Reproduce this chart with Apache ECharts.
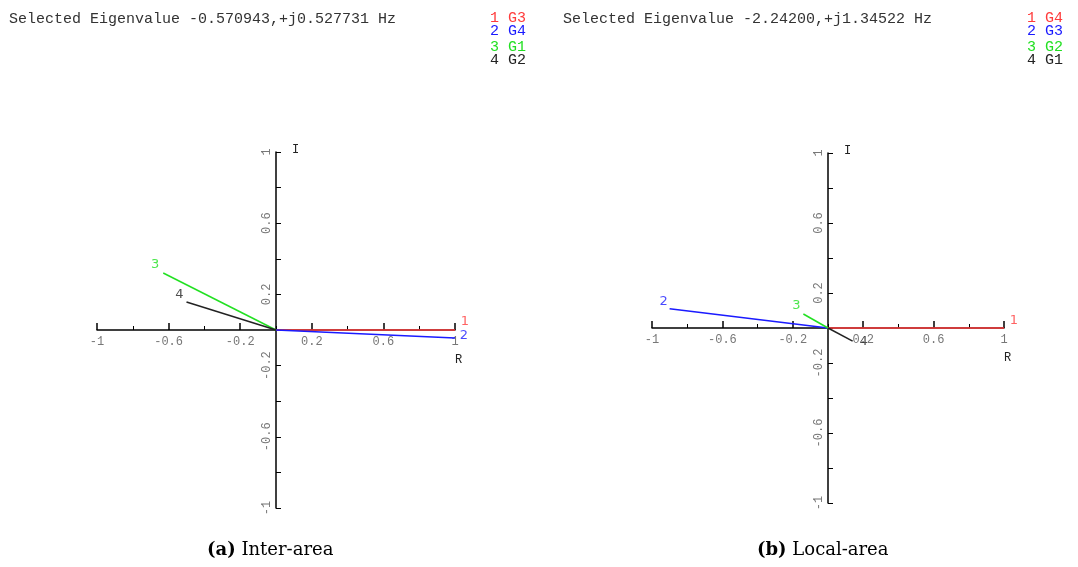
<!DOCTYPE html>
<html lang="en">
<head>
<meta charset="utf-8">
<title>Mode shapes</title>
<script src="https://cdn.jsdelivr.net/npm/echarts@6/dist/echarts.min.js"></script>
<style>
  html, body { margin: 0; padding: 0; background: #fff; }
  #main { width: 1078px; height: 567px; }
</style>
</head>
<body>
<div id="main"></div>
<script type="text/javascript">
    // mode shape vectors (real part R, imaginary part I), order 1..4
    var interNames = ['G3', 'G4', 'G1', 'G2'];
    var interR = [1, 1, -0.63, -0.50];
    var interI = [0, -0.045, 0.32, 0.157];

    var localNames = ['G4', 'G3', 'G2', 'G1'];
    var localR = [1, -0.90, -0.14, 0.14];
    var localI = [0, 0.11, 0.08, -0.075];

    var interTitle = 'Selected Eigenvalue -0.570943,+j0.527731 Hz';
    var localTitle = 'Selected Eigenvalue -2.24200,+j1.34522 Hz';

    var labelTicks = [-1, -0.6, -0.2, 0.2, 0.6, 1];
    var minorTicks = [-0.8, -0.4, 0, 0.4, 0.8];
    var captions = ['Inter-area', 'Local-area'];

    var colors = ['#ff3b3b', '#1a1aff', '#22e022', '#222222'];
    var mono = '"Liberation Mono", "DejaVu Sans Mono", monospace';

    var myChart = echarts.init(document.getElementById('main'));

    var grids = [
        {left: 97, top: 152, width: 358, height: 356},
        {left: 652, top: 153, width: 352, height: 350}
    ];

    // label offsets of the vector numbers, per plot
    var labelOffsets = [
        [[10, -8], [9, -2], [-8, -8], [-7, -7]],
        [[10, -7], [-6, -7], [-7, -8], [11, 0]]
    ];

    var xAxes = [], yAxes = [], series = [];

    function fmt(v) {
        return labelTicks.indexOf(Math.round(v * 10) / 10) >= 0 ? String(Math.round(v * 10) / 10) : '';
    }

    // axes are moved to the middle of the grid (the zero point) with offset
    [0, 1].forEach(function (g) {
        var midY = -grids[g].height / 2, midX = -grids[g].width / 2;
        xAxes.push({
            gridIndex: g, type: 'value', min: -1, max: 1, position: 'bottom', offset: midY,
            name: 'R', nameLocation: 'end', nameGap: 0,
            nameTextStyle: {color: '#222', fontFamily: mono, fontSize: 12, verticalAlign: 'top', padding: [24, 0, 0, 0]},
            axisLine: {onZero: false, lineStyle: {color: '#000', width: 1.5}},
            axisTick: {show: true, inside: true, length: 7, customValues: labelTicks, lineStyle: {color: '#000', width: 1.5}},
            axisLabel: {customValues: labelTicks, formatter: fmt, color: '#777', fontFamily: mono, fontSize: 12, margin: 6},
            splitLine: {show: false}
        });
        xAxes.push({
            gridIndex: g, type: 'value', min: -1, max: 1, position: 'bottom', offset: midY,
            axisLine: {show: false, onZero: false},
            axisTick: {show: true, inside: true, length: 4, customValues: minorTicks, lineStyle: {color: '#000', width: 1}},
            axisLabel: {show: false},
            splitLine: {show: false}
        });
        yAxes.push({
            gridIndex: g, type: 'value', min: -1, max: 1, interval: 0.2, position: 'left', offset: midX,
            name: 'I', nameLocation: 'end', nameGap: -4,
            nameTextStyle: {color: '#222', fontFamily: mono, fontSize: 12, align: 'left', padding: [0, 0, 0, 16]},
            axisLine: {onZero: false, lineStyle: {color: '#000', width: 1.5}},
            axisTick: {show: true, inside: true, length: 5, lineStyle: {color: '#000', width: 1}},
            axisLabel: {formatter: fmt, rotate: 90, color: '#777', fontFamily: mono, fontSize: 12, margin: 3},
            splitLine: {show: false}
        });
    });

    function addPlot(g, R, I) {
        for (var k = 0; k < R.length; k++) {
            series.push({
                type: 'line', xAxisIndex: g * 2, yAxisIndex: g,
                data: [[0, 0], [R[k], I[k]]],
                showSymbol: false, silent: true, animation: false,
                lineStyle: {color: colors[k], width: 1.5}
            });
            series.push({
                type: 'scatter', xAxisIndex: g * 2, yAxisIndex: g,
                data: [[R[k], I[k]]],
                symbolSize: 1, itemStyle: {color: 'rgba(0,0,0,0)'},
                silent: true, animation: false,
                label: {
                    show: true, position: 'inside', offset: labelOffsets[g][k],
                    formatter: String(k + 1), color: colors[k],
                    fontFamily: '"DejaVu Sans", sans-serif', fontSize: 13
                }
            });
        }
    }
    addPlot(0, interR, interI);
    addPlot(1, localR, localI);

    var graphic = [
        {type: 'text', left: 9, top: 12, style: {text: interTitle, fill: '#333', font: '15px ' + mono}},
        {type: 'text', left: 563, top: 12, style: {text: localTitle, fill: '#333', font: '15px ' + mono}}
    ];
    var legendY = [11, 24, 40, 53];
    [[490, interNames], [1027, localNames]].forEach(function (p) {
        for (var k = 0; k < 4; k++) {
            graphic.push({type: 'text', left: p[0], top: legendY[k],
                style: {text: (k + 1) + ' ' + p[1][k], fill: colors[k], font: '15px ' + mono}});
        }
    });
    var serif = '"DejaVu Serif", serif';
    graphic.push({type: 'text', left: 207, top: 541,
        style: {text: '{b|(a)} ' + captions[0], rich: {b: {fontWeight: 'bold', fontFamily: serif, fontSize: 18}},
            fill: '#000', font: '18px ' + serif}});
    graphic.push({type: 'text', left: 757, top: 541,
        style: {text: '{b|(b)} ' + captions[1], rich: {b: {fontWeight: 'bold', fontFamily: serif, fontSize: 18}},
            fill: '#000', font: '18px ' + serif}});

    myChart.setOption({
        animation: false,
        grid: grids,
        xAxis: xAxes,
        yAxis: yAxes,
        series: series,
        graphic: graphic
    });
</script>
</body>
</html>
